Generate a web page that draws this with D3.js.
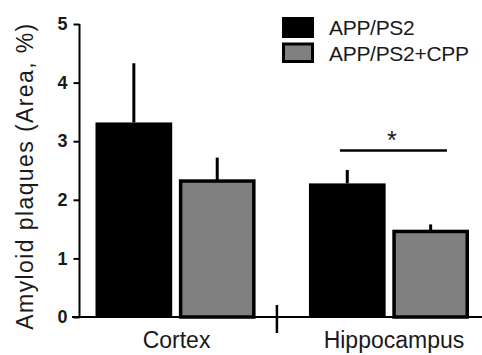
<!DOCTYPE html>
<html lang="en">
<head>
<meta charset="utf-8">
<title>Amyloid plaques</title>
<script src="https://d3js.org/d3.v7.min.js"></script>
<style>
  body { margin: 0; background: #fff; }
  text { font-family: "Liberation Sans", Arial, sans-serif; fill: #1a1a1a; }
</style>
</head>
<body>
<svg width="482" height="355"></svg>
<script>
// data
const regions = ["Cortex", "Hippocampus"];
const groups = ["APP/PS2", "APP/PS2+CPP"];
const means = [[3.32, 2.32], [2.28, 1.46]];
const errs = [[1.01, 0.40], [0.23, 0.12]];
const yTicks = [0, 1, 2, 3, 4, 5];
const colors = ["#000000", "#808080"];

const svg = d3.select("svg");

const y = d3.scaleLinear().domain([0, 5]).range([317, 24]);
const x0 = d3.scaleBand().domain(regions).range([95.5, 469]).paddingInner(0.25);
const x1 = d3.scaleBand().domain(groups).range([0, x0.bandwidth()]).paddingInner(0.08);

// bars
const rows = [];
regions.forEach((r, i) => groups.forEach((g, j) => rows.push({r, g, j, v: means[i][j], e: errs[i][j]})));

const sw = 3.5;
svg.selectAll("rect.bar")
   .data(rows)
   .enter()
   .append("rect")
   .attr("class", "bar")
   .attr("x", d => x0(d.r) + x1(d.g) + (d.j ? sw / 2 : 0))
   .attr("y", d => y(d.v))
   .attr("width", d => x1.bandwidth() - (d.j ? sw : 0))
   .attr("height", d => y(0) - y(d.v))
   .attr("fill", d => colors[d.j])
   .attr("stroke", d => d.j ? "#000" : "none")
   .attr("stroke-width", sw);

// error bars (upper only)
svg.selectAll("line.err")
   .data(rows)
   .enter()
   .append("line")
   .attr("x1", d => x0(d.r) + x1(d.g) + x1.bandwidth() / 2)
   .attr("x2", d => x0(d.r) + x1(d.g) + x1.bandwidth() / 2)
   .attr("y1", d => y(d.v))
   .attr("y2", d => y(d.v + d.e))
   .attr("stroke", "#000")
   .attr("stroke-width", 3);

// y axis
const yAxis = svg.append("g")
   .attr("transform", "translate(79.5,0)")
   .call(d3.axisLeft(y).tickValues(yTicks).tickSize(6).tickPadding(6).tickFormat(d3.format("d")));
yAxis.select(".domain").attr("stroke", "#000").attr("stroke-width", 2).attr("d", `M0,${y(5)}V${y(0)}`);
yAxis.selectAll(".tick line").attr("stroke", "#000").attr("stroke-width", 2);
yAxis.selectAll(".tick text")
   .attr("font-size", 18).attr("font-weight", "bold")
   .style("font-family", "'Liberation Sans', Arial, sans-serif").attr("fill", "#1a1a1a");

// x axis baseline
svg.append("line")
   .attr("x1", 72).attr("x2", 482)
   .attr("y1", y(0)).attr("y2", y(0))
   .attr("stroke", "#000").attr("stroke-width", 2.2);

// group separator tick
const gapStart = x0(regions[0]) + x0.bandwidth();
const gapEnd = x0(regions[1]);
const sepX = gapStart + (gapEnd - gapStart) * 0.4;
svg.append("line")
   .attr("x1", sepX).attr("x2", sepX)
   .attr("y1", y(0) - 12).attr("y2", y(0) + 16)
   .attr("stroke", "#000").attr("stroke-width", 2.5);

// category labels
svg.selectAll("text.cat")
   .data(regions)
   .enter()
   .append("text")
   .attr("x", (d, i) => x0(d) + x0.bandwidth() / 2 + (i ? 5 : 1))
   .attr("y", 348)
   .attr("text-anchor", "middle")
   .attr("font-size", 23)
   .text(d => d);

// y axis title
svg.append("text")
   .attr("transform", "translate(33,176) rotate(-90)")
   .attr("text-anchor", "middle")
   .attr("font-size", 23)
   .attr("letter-spacing", 1.4)
   .text("Amyloid plaques (Area, %)");

// significance bracket
const hx = x0("Hippocampus");
svg.append("line")
   .attr("x1", hx + 31).attr("x2", hx + 138)
   .attr("y1", 150.5).attr("y2", 150.5)
   .attr("stroke", "#000").attr("stroke-width", 2.5);
svg.append("text")
   .attr("x", hx + 83).attr("y", 149)
   .attr("text-anchor", "middle")
   .attr("font-size", 25)
   .text("*");

// legend
const leg = svg.selectAll("g.leg")
   .data(groups)
   .enter()
   .append("g")
   .attr("transform", (d, i) => `translate(282,${17 + i * 25.5})`);
leg.append("rect")
   .attr("x", (d, i) => i ? 1.5 : 0)
   .attr("y", (d, i) => i ? 1.5 : 0)
   .attr("width", (d, i) => i ? 29 : 32)
   .attr("height", (d, i) => i ? 17.5 : 21)
   .attr("fill", (d, i) => colors[i])
   .attr("stroke", (d, i) => i ? "#000" : "none")
   .attr("stroke-width", 3);
leg.append("text")
   .attr("x", 47)
   .attr("y", 18)
   .attr("font-size", 21)
   .attr("letter-spacing", -0.3)
   .text(d => d);
</script>
</body>
</html>
